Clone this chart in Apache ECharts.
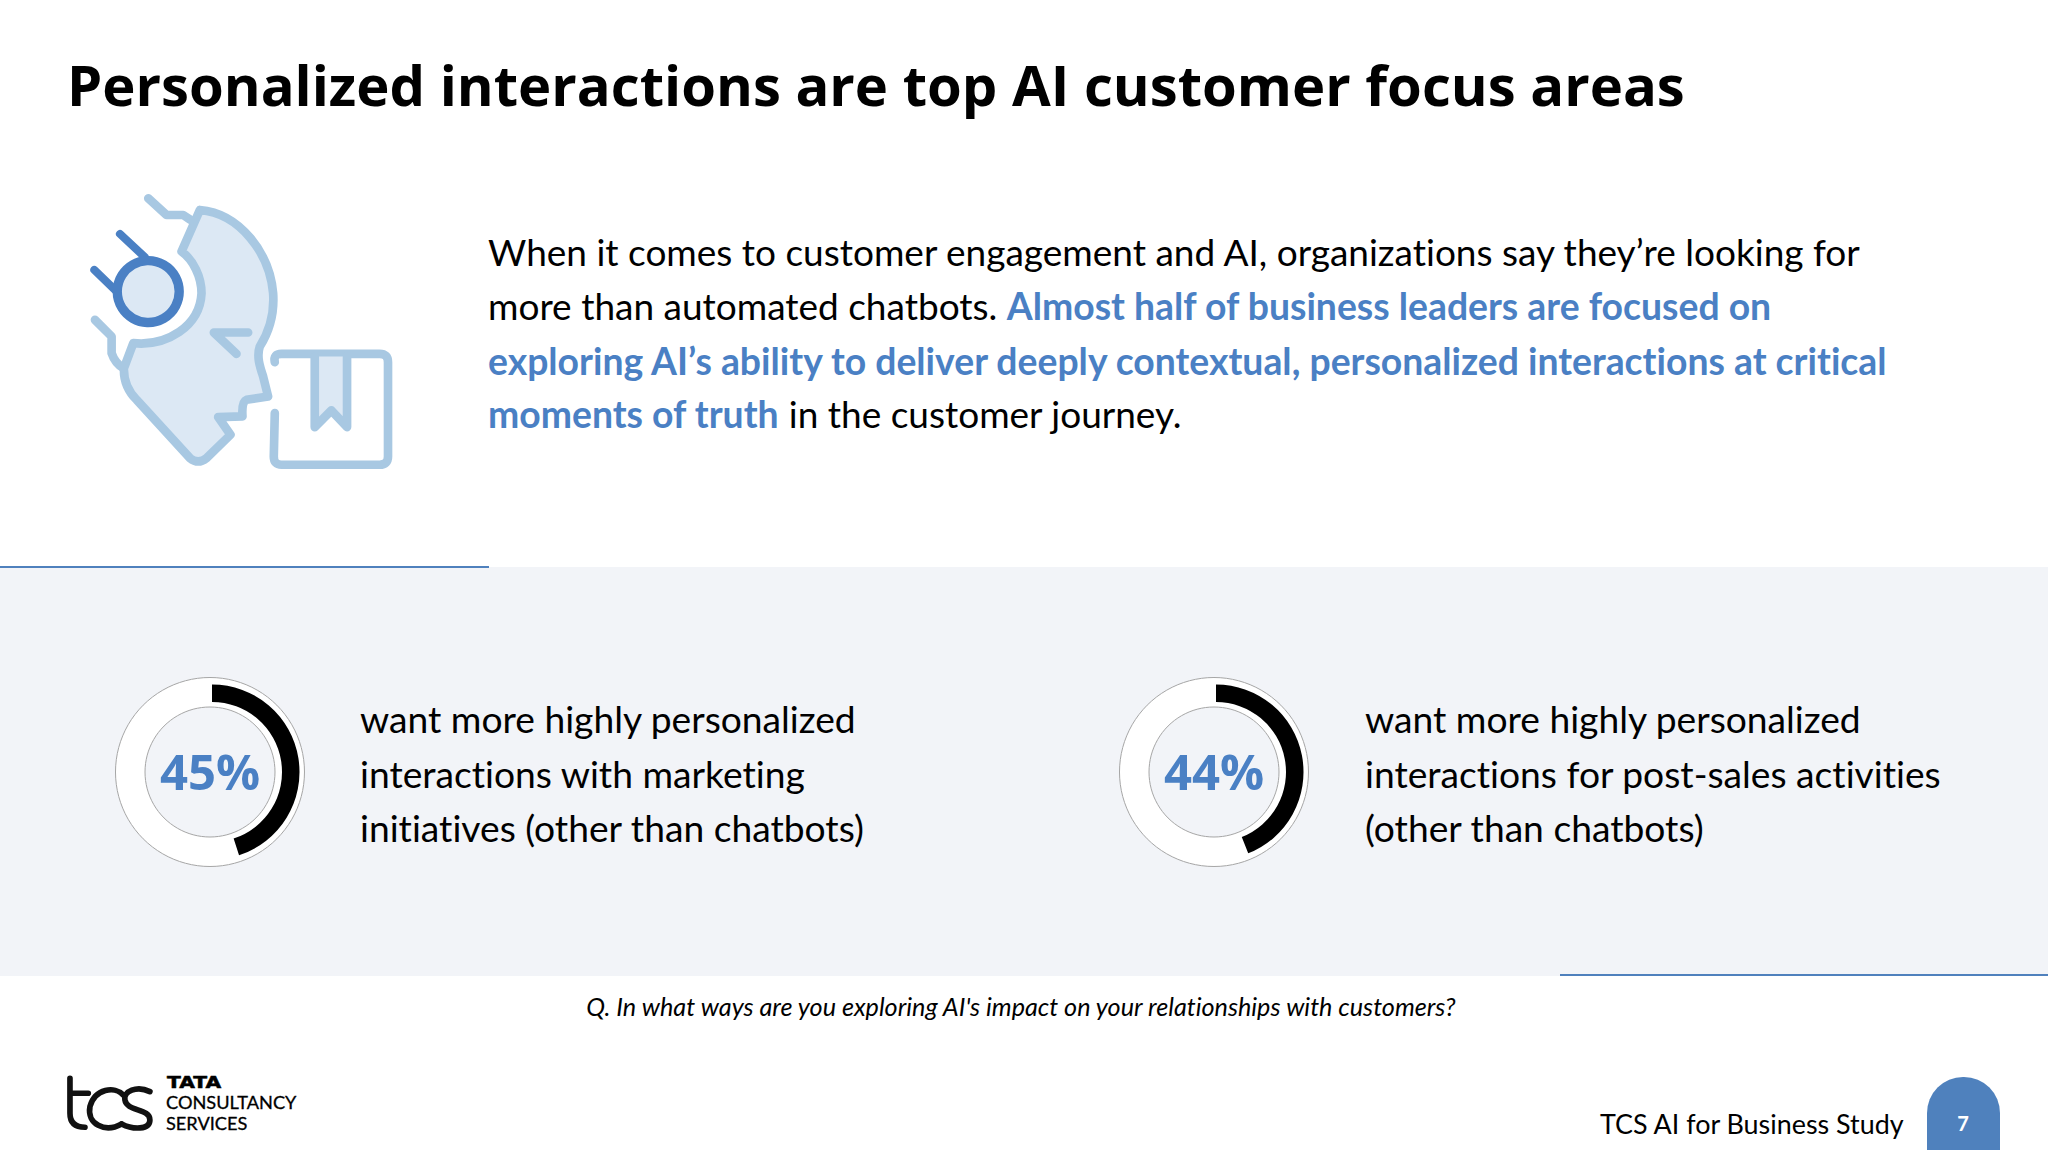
<!DOCTYPE html>
<html>
<head>
<meta charset="utf-8">
<style>
html,body{margin:0;padding:0;background:#fff}
#chart{width:2048px;height:1152px}
#chart text{font-variant-ligatures:none}
</style>
<script src="https://cdn.jsdelivr.net/npm/echarts@6/dist/echarts.min.js"></script>
</head>
<body>
<div id="chart"></div>
<script>
// Data
const donutValues = [45, 44];
const donutCenters = [[210, 772], [1214, 772]];
const captions = [
    ['want more highly personalized', 'interactions with marketing', 'initiatives (other than chatbots)'],
    ['want more highly personalized', 'interactions for post-sales activities', '(other than chatbots)']
];
const titleText = 'Personalized interactions are top AI customer focus areas';
const introLines = [
    '{n|When it comes to customer engagement and AI, organizations say they\u2019re looking for}',
    '{n|more than automated chatbots. }{b|Almost half of business leaders are focused on}',
    '{b|exploring AI\u2019s ability to deliver deeply contextual, personalized interactions at critical}',
    '{b|moments of truth}{n| in the customer journey.}'
];
const questionText = "Q. In what ways are you exploring AI's impact on your relationships with customers?";
const footerText = 'TCS AI for Business Study';
const pageNumber = '7';

const BLUE = '#4a80c4';
const BODY_FONT = 'Lato';
// svg renderer so the css above can switch off the Lato ligatures
const chart = echarts.init(document.getElementById('chart'), null, { renderer: 'svg' });

// Donuts
function donutSeries(value, i) {
    const center = donutCenters[i];
    return [
        {
            type: 'pie', silent: true, animation: false, center: center, radius: [65, 94.5],
            label: { show: false }, labelLine: { show: false }, z: 2,
            itemStyle: { color: '#fff', borderColor: '#a6a6a6', borderWidth: 1 },
            data: [100]
        },
        {
            type: 'pie', silent: true, animation: false, center: [center[0] + 2, center[1]], radius: [70, 87.5],
            startAngle: 90, clockwise: true, z: 3, labelLine: { show: false },
            label: { show: false },
            data: [
                {
                    value: value,
                    itemStyle: { color: '#000' },
                    label: {
                        show: true, position: 'center', formatter: '{c}%', offset: [-2, -1.5],
                        color: BLUE, fontFamily: 'Open Sans', fontWeight: 'bold', fontSize: 49
                    }
                },
                { value: 100 - value, itemStyle: { color: 'rgba(0,0,0,0)' } }
            ]
        }
    ];
}

// Svg-style paths have to be registered as shapes before graphic can use them
let shapeCount = 0;
function pathEl(d, style) {
    const name = 'sketch' + (shapeCount++);
    echarts.graphic.registerShape(name, echarts.graphic.extendPath(d, {}));
    return { type: name, style: style };
}

// Icon (drawn in 3x units, scaled back by the group)
const ICON_FILL = '#dce8f4';
const ICON_LINE = '#a8c8e2';
const iconStroke = { fill: 'none', stroke: ICON_LINE, lineWidth: 26, lineCap: 'round', lineJoin: 'round' };
const iconGroup = {
    type: 'group', x: 60, y: 170, scaleX: 1 / 3, scaleY: 1 / 3, z: 5,
    children: [
        pathEl('M420 120 C540 130 630 250 640 370 C645 440 625 490 600 530 C590 560 600 590 610 620 L625 680 L560 690 Q545 695 548 740 L475 742 L512 795 L440 865 Q415 885 390 865 L230 690 Q190 650 192 595 L220 520 C320 530 420 470 425 370 C425 320 400 270 365 245 Z',
            { fill: ICON_FILL, stroke: ICON_LINE, lineWidth: 26, lineJoin: 'round' }),
        pathEl('M265 85 L320 135 L370 135 L392 150', iconStroke),
        pathEl('M105 450 L155 500 L155 550 Q165 580 190 595', iconStroke),
        pathEl('M565 488 L462 488 L530 552', iconStroke),
        pathEl('M645 577 Q640 552 665 552 L960 552 Q985 552 985 577 L985 860 Q985 885 960 885 L665 885 Q642 885 642 860 L645 730', iconStroke),
        pathEl('M765 560 L765 772 L815 722 L862 772 L862 560',
            { fill: ICON_FILL, stroke: ICON_LINE, lineWidth: 26, lineCap: 'round', lineJoin: 'round' }),
        pathEl('M180 192 L255 262 M103 300 L175 370', { fill: 'none', stroke: BLUE, lineWidth: 24, lineCap: 'round' }),
        { type: 'circle', shape: { cx: 265, cy: 365, r: 93 }, style: { fill: ICON_FILL, stroke: BLUE, lineWidth: 28 } }
    ]
};

// Logo (same idea)
const logoStroke = { fill: 'none', stroke: '#111', lineWidth: 17, lineCap: 'round' };
const logoGroup = {
    type: 'group', x: 40, y: 1050, scaleX: 1 / 3, scaleY: 1 / 3, z: 5,
    children: [
        pathEl('M90 85 L90 190 Q90 232 135 232 M90 130 L145 130', logoStroke),
        pathEl('M250 135 C225 108 165 115 150 170 C140 222 195 250 245 222', logoStroke),
        pathEl('M330 125 C290 105 250 125 255 150 C260 185 330 175 330 210 C330 240 280 240 245 222', logoStroke)
    ]
};

function text(str, x, y, style, extra) {
    return Object.assign({
        type: 'text', x: x, y: y, z: 6,
        style: Object.assign({ text: str, verticalAlign: 'middle', fill: '#000', fontFamily: BODY_FONT }, style)
    }, extra);
}

const introRich = {
    n: { fontFamily: BODY_FONT, fontSize: 37, fill: '#000', color: '#000' },
    b: { fontFamily: BODY_FONT, fontSize: 37.35, fontWeight: 'bold', fill: BLUE, color: BLUE }
};
const introY = [251, 305, 360, 413];
const captionY = [718, 773, 827];
const captionX = [360, 1365];

const graphics = [
    { type: 'rect', z: -1, shape: { x: 0, y: 567, width: 2048, height: 409 }, style: { fill: '#f2f4f8' } },
    { type: 'rect', z: 1, shape: { x: 0, y: 566, width: 489, height: 2 }, style: { fill: '#4f81bd' } },
    { type: 'rect', z: 1, shape: { x: 1560, y: 974, width: 488, height: 2 }, style: { fill: '#4f81bd' } },
    { type: 'rect', z: 1, shape: { x: 1927, y: 1077, width: 73, height: 73, r: [36, 36, 0, 0] }, style: { fill: '#4f81bd' } },
    iconGroup,
    logoGroup,
    text(titleText, 67, 84, { fontFamily: 'Open Sans', fontWeight: 'bold', fontSize: 56.2 }),
    text(questionText, 1021, 1006, { align: 'center', fontStyle: 'italic', fontSize: 25.2 }),
    text(footerText, 1600, 1123, { fontSize: 26.9 }),
    text(pageNumber, 1963, 1123, { align: 'center', fontSize: 20, fontWeight: 'bold', fill: '#fff' }),
    text('TATA', 167, 1083, { fontFamily: 'DejaVu Sans', fontWeight: 'bold', fontSize: 15, stroke: '#000', lineWidth: 0.5 }, { scaleX: 1.35 }),
    text('CONSULTANCY', 166, 1102, { fontSize: 18.2, stroke: '#000', lineWidth: 0.3 }),
    text('SERVICES', 166, 1123, { fontSize: 18.2, stroke: '#000', lineWidth: 0.3 })
];
introLines.forEach((line, i) => {
    graphics.push({
        type: 'text', x: 488, y: introY[i], z: 6,
        style: { text: line, rich: introRich, verticalAlign: 'middle', fontFamily: BODY_FONT, fontSize: 37 }
    });
});
captions.forEach((lines, c) => {
    lines.forEach((line, i) => {
        graphics.push(text(line, captionX[c], captionY[i], { fontSize: 37.2 }));
    });
});

chart.setOption({
    backgroundColor: '#fff',
    animation: false,
    graphic: graphics,
    series: donutValues.flatMap(donutSeries)
});
</script>
</body>
</html>
